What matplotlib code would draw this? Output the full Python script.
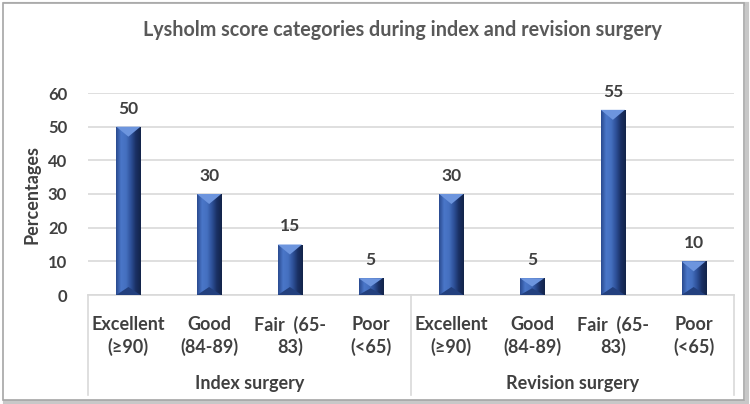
import matplotlib
matplotlib.use("Agg")
import matplotlib.pyplot as plt
import numpy as np
from matplotlib.patches import Polygon, Rectangle
from matplotlib.colors import LinearSegmentedColormap
import matplotlib.transforms as mtransforms

# ---- data ----
groups = ["Index surgery", "Revision surgery"]
categories = ["Excellent\n(\u226590)", "Good\n(84-89)", "Fair  (65-\n83)", "Poor\n(<65)"]
index_values = [50, 30, 15, 5]
revision_values = [30, 5, 55, 10]
yticks = [0, 10, 20, 30, 40, 50, 60]
title = "Lysholm score categories during index and revision surgery"
ylabel = "Percentages"

plt.rcParams['font.family'] = ['Lato', 'DejaVu Sans']
TXT = "#404040"

W, H = 750, 404
fig = plt.figure(figsize=(W / 100, H / 100), dpi=100)
fig.patch.set_facecolor("white")

# outer frame with shadow
shadow = Rectangle((5 / W, 2 / H), (W - 8) / W, (H - 6) / H, transform=fig.transFigure,
                   facecolor="none", edgecolor="#C8C8C8", lw=3, zorder=0)
fig.add_artist(shadow)
frame = Rectangle((3 / W, 4 / H), (W - 9) / W, (H - 7) / H, transform=fig.transFigure,
                  facecolor="white", edgecolor="#A6A6A6", lw=1.2, zorder=0)
fig.add_artist(frame)

ax = fig.add_axes([88 / W, 109 / H, 646 / W, 202 / H])
ax.set_facecolor("none")

values = index_values + revision_values
n = len(values)
x = np.arange(n)
bw = 0.30
bars = ax.bar(x, values, width=bw, color="#3A62B0", zorder=3)

ymax = yticks[-1]
ax.set_xlim(-0.5, n - 0.5)
ax.set_ylim(0, ymax)

px_y = ymax / 202.0  # data per pixel (y)
grad_cmap = LinearSegmentedColormap.from_list(
    "bev", ["#2A4B90", "#4A76C8", "#4570C0", "#2E5199", "#1A3064", "#13244A"])
grad = np.linspace(0, 1, 64).reshape(1, -1)

for b in bars:
    x0 = b.get_x(); w = b.get_width(); y1 = b.get_height(); y0 = 0
    x1 = x0 + w
    im = ax.imshow(grad, extent=[x0, x1, y0, y1], aspect="auto", cmap=grad_cmap,
                   zorder=3.1, origin="lower")
    im.set_clip_path(b)
    bh = min(10 * px_y, y1 / 2)
    # top triangle (light)
    ax.add_patch(Polygon([(x0, y1), (x1, y1), (x0 + w / 2, y1 - bh)],
                         closed=True, facecolor="#6D95DE", edgecolor="none", zorder=3.3))
    # bottom triangle (dark)
    ax.add_patch(Polygon([(x0, y0), (x1, y0), (x0 + w / 2, y0 + bh * 0.8)],
                         closed=True, facecolor="#23407E", edgecolor="none", zorder=3.2))
    # data label
    ax.annotate(f"{int(y1)}", (x0 + w / 2, y1), xytext=(0, 13), textcoords="offset points",
                ha="center", va="center", fontsize=12.5, fontweight="bold", color=TXT, zorder=5)

ax.set_xlim(-0.5, n - 0.5)
ax.set_ylim(0, ymax)

ax.set_yticks(yticks)
ax.set_yticklabels([str(t) for t in yticks], fontsize=12, fontweight="bold", color=TXT)
ax.tick_params(axis="y", length=0, pad=15)
ax.set_xticks([])
ax.yaxis.grid(True, color="#D9D9D9", lw=1.2, zorder=0)
for s in ["top", "right", "left"]:
    ax.spines[s].set_visible(False)
ax.spines["bottom"].set_color("#D9D9D9")
ax.spines["bottom"].set_linewidth(1.2)

trans = mtransforms.blended_transform_factory(ax.transData, ax.transAxes)
# category labels
for i in range(n):
    ax.text(x[i], -0.203, categories[i % len(categories)], transform=trans, ha="center",
            va="center", fontsize=13, fontweight="bold", color=TXT, linespacing=1.3)
# group labels and separators
per = len(categories)
for g, name in enumerate(groups):
    ax.text(g * per + (per - 1) / 2, -0.436, name, transform=trans, ha="center",
            va="center", fontsize=13, fontweight="bold", color=TXT)
for sep in range(len(groups) + 1):
    xs = sep * per - 0.5
    ax.plot([xs, xs], [0, -0.495], transform=trans, color="#D9D9D9", lw=1.2,
            clip_on=False, zorder=1)

ax.set_ylabel(ylabel, fontsize=13, fontweight="bold", color=TXT)
ax.yaxis.set_label_coords(-0.074, 0.5)

fig.text(402 / W, 1 - 30 / H, title, ha="center", va="center", fontsize=14.2,
         fontweight="bold", color="#595959")

fig.savefig("out.png", dpi=100)
